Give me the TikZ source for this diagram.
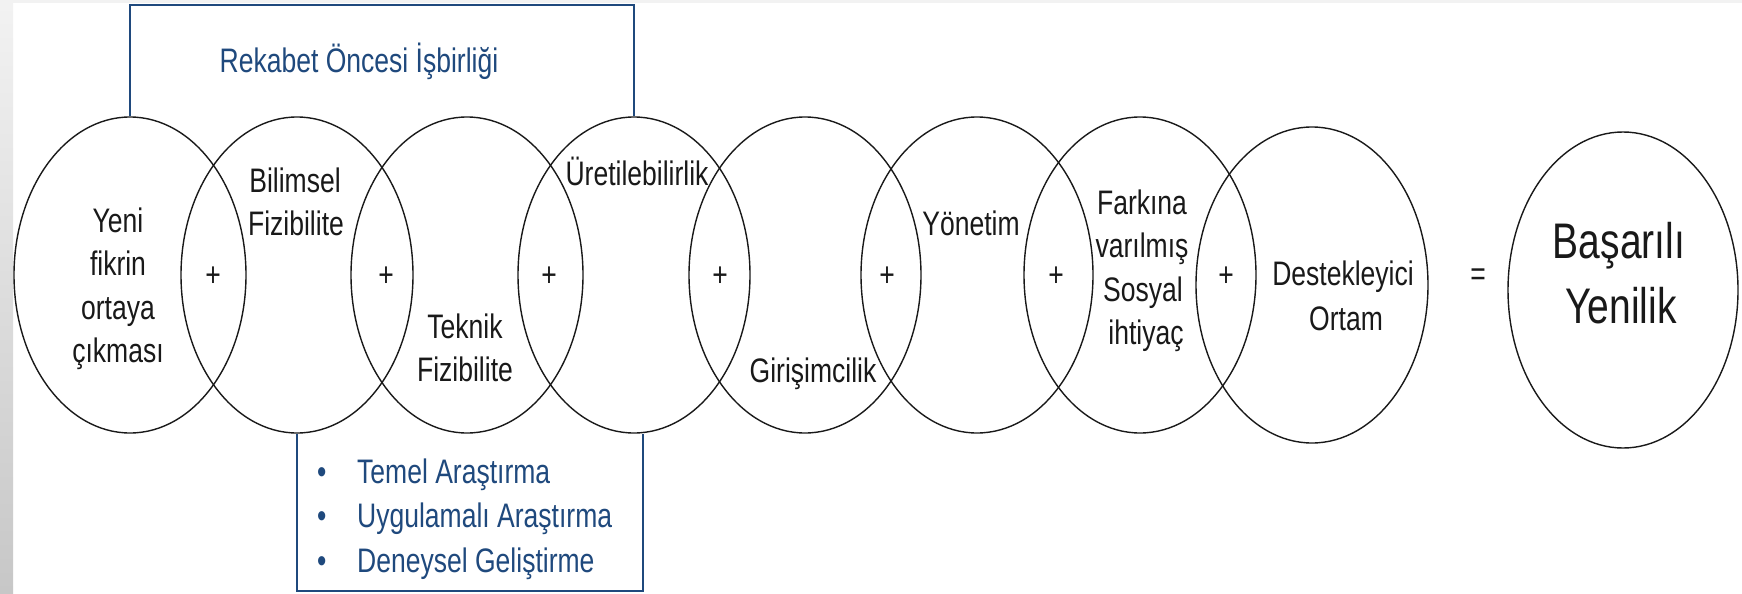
\documentclass[tikz,border=0pt]{standalone}
\usepackage{fontspec}
\setmainfont[FakeStretch=0.78]{Liberation Sans}
\usetikzlibrary{shapes.geometric,calc}
\definecolor{dblue}{RGB}{31,73,125}
\definecolor{ink}{RGB}{25,25,25}
\begin{document}
\begin{tikzpicture}[x=1pt,y=-1pt,
  bub/.style={draw=ink, line width=1.4pt, ellipse, minimum width=232pt, minimum height=316pt, inner sep=0pt},
  lbl/.style={anchor=base, inner sep=0pt, text=ink, font=\fontsize{34}{44}\selectfont},
  big/.style={anchor=base, inner sep=0pt, text=ink, font=\fontsize{50}{64}\selectfont},
  op/.style={inner sep=0pt, text=ink, font=\fontsize{34}{44}\selectfont},
  blu/.style={anchor=base, inner sep=0pt, text=dblue, font=\fontsize{34}{44}\selectfont},
  bullt/.style={anchor=base west, inner sep=0pt, text=dblue, font=\fontsize{34}{44}\selectfont},
  bline/.style={draw=dblue, line width=2pt}]
\useasboundingbox (0,0) rectangle (1742,594);
\fill[white] (0,0) rectangle (1742,594);
\shade[top color=black!5, bottom color=black!22] (0,0) rectangle (13,594);
\fill[black!5] (13,0) rectangle (1742,3);

% ellipses
\node[bub] (e1) at (130,275) {};
\node[bub] (e2) at (297,275) {};
\node[bub] (e3) at (467,275) {};
\node[bub] (e4) at (634,275) {};
\node[bub] (e5) at (805,275) {};
\node[bub] (e6) at (977,275) {};
\node[bub] (e7) at (1140,275) {};
\node[bub] (e8) at (1312,285) {};
\node[bub, minimum width=230pt] (e9) at (1623,290) {};

% plus and equals
\node[op] (p1) at (213,277) {+};
\node[op] (p2) at (386,277) {+};
\node[op] (p3) at (549,277) {+};
\node[op] (p4) at (720,277) {+};
\node[op] (p5) at (887,277) {+};
\node[op] (p6) at (1056,277) {+};
\node[op] (p7) at (1226,277) {+};
\node[op] (eq) at (1478,277) {=};

% circle texts
\node[lbl] (a1) at (118,232) {Yeni};
\node[lbl] (a2) at (118,275.5) {fikrin};
\node[lbl] (a3) at (118,319) {ortaya};
\node[lbl] (a4) at (118,362.5) {çıkması};
\node[lbl] (b1) at (295,192) {Bilimsel};
\node[lbl] (b2) at (296,235) {Fizibilite};
\node[lbl] (c1) at (465,338) {Teknik};
\node[lbl] (c2) at (465,381) {Fizibilite};
\node[lbl] (d1) at (637,185) {Üretilebilirlik};
\node[lbl] (f1) at (813,382) {Girişimcilik};
\node[lbl] (g1) at (971,235) {Yönetim};
\node[lbl] (h1) at (1142,214) {Farkına};
\node[lbl] (h2) at (1142,257.5) {varılmış};
\node[lbl] (h3) at (1143,301) {Sosyal};
\node[lbl] (h4) at (1146,344.5) {ihtiyaç};
\node[lbl] (k1) at (1343,285) {Destekleyici};
\node[lbl] (k2) at (1346,330) {Ortam};
\node[big] (m1) at (1619,258) {Başarılı};
\node[big] (m2) at (1621,323) {Yenilik};

% top bracket
\coordinate (tl) at (130,5);
\coordinate (tr) at (634,5);
\draw[bline] (e1.north) -- (tl) -- (tr) -- (e4.north);
\node[blu] (title) at (359,72) {Rekabet Öncesi İşbirliği};

% bottom box
\coordinate (bl) at (297,591);
\coordinate (br) at (643,591);
\draw[bline] (e2.south) -- (bl) -- (br) -- (br |- e4.south);
\node[bullt] (r1) at (317,483) {\makebox[40pt][l]{•}Temel Araştırma};
\node[bullt] (r2) at (317,527.5) {\makebox[40pt][l]{•}Uygulamalı Araştırma};
\node[bullt] (r3) at (317,572) {\makebox[40pt][l]{•}Deneysel Geliştirme};
\end{tikzpicture}
\end{document}
